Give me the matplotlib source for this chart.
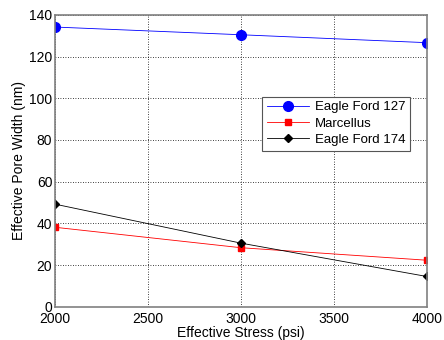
import matplotlib
matplotlib.use("Agg")
import matplotlib.pyplot as plt

stress = [2000, 3000, 4000]
ef127 = [134.2, 130.5, 126.7]
marcellus = [38.1, 28.3, 22.3]
ef174 = [49.2, 30.5, 14.5]
labels = ["Eagle Ford 127", "Marcellus", "Eagle Ford 174"]

plt.rcParams["font.family"] = ["Liberation Sans", "DejaVu Sans"]

fig = plt.figure(figsize=(4.44, 3.40), dpi=100)
ax = fig.add_axes([0.124, 0.098, 0.837, 0.858])

ax.plot(stress, ef127, color="#0000ff", lw=0.6, marker="o", ms=7, label=labels[0])
ax.plot(stress, marcellus, color="#ff0000", lw=0.6, marker="s", ms=5, label=labels[1])
ax.plot(stress, ef174, color="black", lw=0.6, marker="D", ms=4.5, label=labels[2])

ax.set_xlim(2000, 4000)
ax.set_ylim(0, 140)
ax.set_xticks([2000, 2500, 3000, 3500, 4000])
ax.set_yticks(range(0, 141, 20))
ax.grid(True, color="black", ls=(0, (1, 2)), lw=0.6)
for s in ax.spines.values():
    s.set_color("#808080")
    s.set_linewidth(1.2)
ax.tick_params(labelsize=10, length=0)
ax.tick_params(axis="x", pad=4)
ax.tick_params(axis="y", pad=2)
ax.set_xlabel("Effective Stress (psi)", fontsize=10, labelpad=0)
ax.set_ylabel("Effective Pore Width (nm)", fontsize=10, labelpad=2)

leg = ax.legend(loc="upper left", bbox_to_anchor=(0.558, 0.72), fontsize=9.5,
                fancybox=False, framealpha=1, edgecolor="#555555",
                borderpad=0.35, labelspacing=0.3, handlelength=3.2,
                handletextpad=0.4, borderaxespad=0)
leg.get_frame().set_linewidth(0.8)

fig.savefig("out.png", dpi=100)
